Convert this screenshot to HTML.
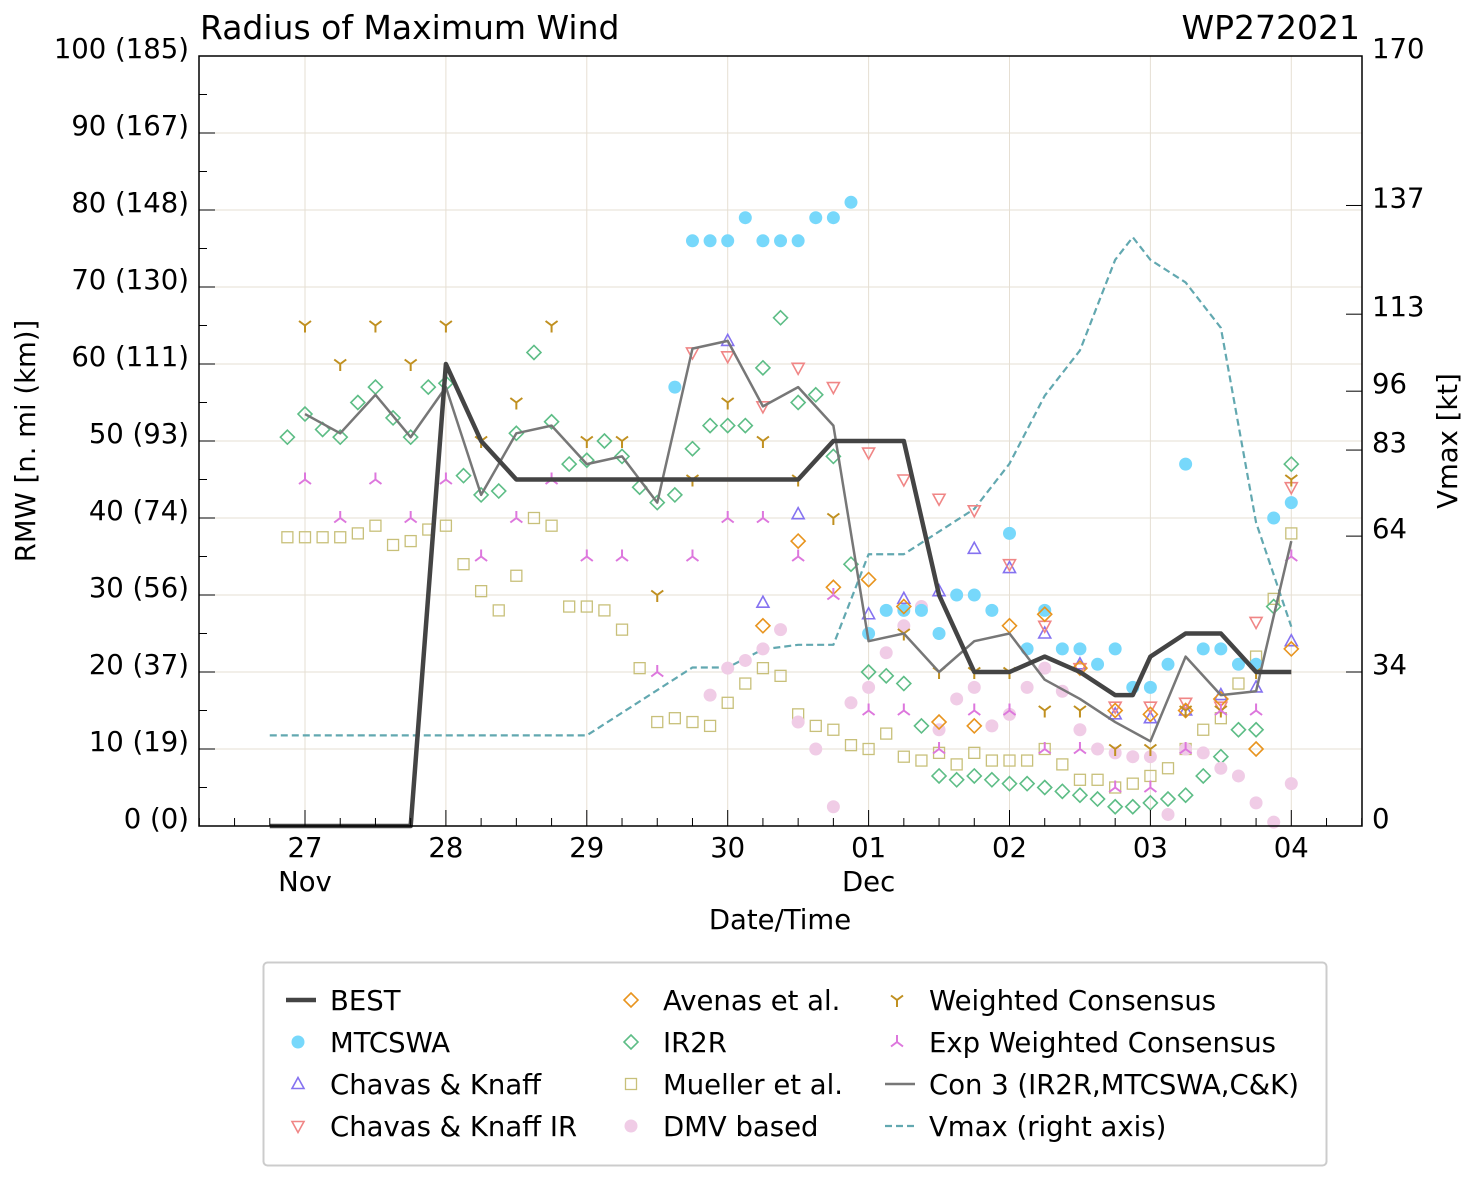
<!DOCTYPE html>
<html><head><meta charset="utf-8"><style>
body{margin:0;background:#fff;font-family:"DejaVu Sans","Liberation Sans",sans-serif;}
svg text{font-family:"DejaVu Sans","Liberation Sans",sans-serif;fill:#000;}
</style></head><body>
<svg id="chart" width="1477" height="1180" xmlns="http://www.w3.org/2000/svg">
<g id="grid"></g>
<g id="series"></g>
<g id="axes"></g>
<g id="legend"></g>
</svg>
<script>
const bestD=[-0.25,0.75,1,1.25,1.5,3.5,3.75,4.25,4.5,4.75,5,5.25,5.5,5.75,5.875,6,6.25,6.5,6.75,7];
const bestV=[0,0,60,50,45,45,50,50,30,20,20,22,20,17,17,22,25,25,20,20];
const vmaxD=[-0.25,2,2.75,3,3.25,3.5,3.75,4,4.25,4.5,4.75,5,5.25,5.5,5.75,5.875,6,6.25,6.5,6.75,7];
const vmaxV=[20,20,35,35,39,40,40,60,60,65,70,80,95,105,125,130,125,120,110,67,44];
const conD=[0,0.25,0.5,0.75,1,1.25,1.5,1.75,2,2.25,2.5,2.75,3,3.25,3.5,3.75,4,4.25,4.5,4.75,5,5.25,5.5,5.75,6,6.25,6.5,6.75,7];
const conV=[53.5,51,56,50.5,57,43,51,52,47,48,42,62,63,54.5,57,52,24,25,20,24,25,19,16.5,13.5,11,22,17,17.5,37];
const mtD=[2.625,2.75,2.875,3,3.125,3.25,3.375,3.5,3.625,3.75,3.875,4,4.125,4.25,4.375,4.5,4.625,4.75,4.875,5,5.125,5.25,5.375,5.5,5.625,5.75,5.875,6,6.125,6.25,6.375,6.5,6.625,6.75,6.875,7];
const mtV=[57,76,76,76,79,76,76,76,79,79,81,25,28,28,28,25,30,30,28,38,23,28,23,23,21,23,18,18,21,47,23,23,21,21,40,42];
const ckD=[3,3.25,3.5,4,4.25,4.5,4.75,5,5.25,5.5,5.75,6,6.25,6.5,6.75,7];
const ckV=[63,29,40.5,27.5,29.5,30.5,36,33.5,25,21,14.5,14,15,17,18,24];
const ckirD=[2.75,3,3.25,3.5,3.75,4,4.25,4.5,4.75,5,5.25,5.5,5.75,6,6.25,6.5,6.75,7];
const ckirV=[61.5,61,54.5,59.5,57,48.5,45,42.5,41,34,26,20.5,15.5,15.5,16,15.5,26.5,44];
const avD=[3.25,3.5,3.75,4,4.25,4.5,4.75,5,5.25,5.5,5.75,6,6.25,6.5,6.75,7];
const avV=[26,37,31,32,28.5,13.5,13,26,27.5,20.5,15,14.5,15,16.5,10,23];
const irD=[-0.125,0,0.125,0.25,0.375,0.5,0.625,0.75,0.875,1,1.125,1.25,1.375,1.5,1.625,1.75,1.875,2,2.125,2.25,2.375,2.5,2.625,2.75,2.875,3,3.125,3.25,3.375,3.5,3.625,3.75,3.875,4,4.125,4.25,4.375,4.5,4.625,4.75,4.875,5,5.125,5.25,5.375,5.5,5.625,5.75,5.875,6,6.125,6.25,6.375,6.5,6.625,6.75,6.875,7];
const irV=[50.5,53.5,51.5,50.5,55,57,53,50.5,57,57.5,45.5,43,43.5,51,61.5,52.5,47,47.5,50,48,44,42,43,49,52,52,52,59.5,66,55,56,48,34,20,19.5,18.5,13,6.5,6,6.5,6,5.5,5.5,5,4.5,4,3.5,2.5,2.5,3,3.5,4,6.5,9,12.5,12.5,28.5,47];
const muD=[-0.125,0,0.125,0.25,0.375,0.5,0.625,0.75,0.875,1,1.125,1.25,1.375,1.5,1.625,1.75,1.875,2,2.125,2.25,2.375,2.5,2.625,2.75,2.875,3,3.125,3.25,3.375,3.5,3.625,3.75,3.875,4,4.125,4.25,4.375,4.5,4.625,4.75,4.875,5,5.125,5.25,5.375,5.5,5.625,5.75,5.875,6,6.125,6.25,6.375,6.5,6.625,6.75,6.875,7];
const muV=[37.5,37.5,37.5,37.5,38,39,36.5,37,38.5,39,34,30.5,28,32.5,40,39,28.5,28.5,28,25.5,20.5,13.5,14,13.5,13,16,18.5,20.5,19.5,14.5,13,12.5,10.5,10,12,9,8.5,9.5,8,9.5,8.5,8.5,8.5,10,8,6,6,5,5.5,6.5,7.5,10,12.5,14,18.5,22,29.5,38];
const dmvD=[2.875,3,3.125,3.25,3.375,3.5,3.625,3.75,3.875,4,4.125,4.25,4.375,4.5,4.625,4.75,4.875,5,5.125,5.25,5.375,5.5,5.625,5.75,5.875,6,6.125,6.25,6.375,6.5,6.625,6.75,6.875,7];
const dmvV=[17,20.5,21.5,23,25.5,13.5,10,2.5,16,18,22.5,26,28.5,12.5,16.5,18,13,14.5,18,20.5,17.5,12.5,10,9.5,9,9,1.5,10,9.5,7.5,6.5,3,0.5,5.5];
const wcD=[0,0.25,0.5,0.75,1,1.25,1.5,1.75,2,2.25,2.5,2.75,3,3.25,3.5,3.75,4.25,4.5,4.75,5,5.25,5.5,5.75,6,6.25,6.5,6.75,7];
const wcV=[65,60,65,60,65,50,55,65,50,50,30,45,55,50,45,40,25,20,20,20,15,15,10,10,15,15,20,45];
const ewD=[0,0.25,0.5,0.75,1,1.25,1.5,1.75,2,2.25,2.5,2.75,3,3.25,3.5,3.75,4,4.25,4.5,4.75,5,5.25,5.5,5.75,6,6.25,6.5,6.75,7];
const ewV=[45,40,45,40,45,35,40,45,35,35,20,35,40,40,35,30,15,15,10,15,15,10,10,5,5,10,15,15,35];
const yTicks=["0 (0)","10 (19)","20 (37)","30 (56)","40 (74)","50 (93)","60 (111)","70 (130)","80 (148)","90 (167)","100 (185)"];
const rTicks=[0,34,64,83,96,113,137,170];
const xLabels=["27","28","29","30","01","02","03","04"];

const L=199,R=1362,T=56,B=826;
const FS=27.5;
const X=d=>305+d*140.9;
const Y=v=>B-v*(B-T)/100;
const YR=v=>B-v*(B-T)/170;
const NS="http://www.w3.org/2000/svg";
function mk(p,tag,at){const e=document.createElementNS(NS,tag);for(const k in at)e.setAttribute(k,at[k]);p.appendChild(e);return e;}
const grid=document.getElementById('grid'),ser=document.getElementById('series'),ax=document.getElementById('axes'),lg=document.getElementById('legend');

for(let i=0;i<=10;i++){const g=mk(grid,'line',{x1:L,x2:R,y1:Y(i*10),y2:Y(i*10),stroke:'#e6dfd3','stroke-width':1});
}
for(let i=0;i<8;i++){const g=mk(grid,'line',{x1:X(i),x2:X(i),y1:T,y2:B,stroke:'#e6dfd3','stroke-width':1});
}

function line(D,V,yf,st,w,dash,name){const pts=D.map((d,i)=>X(d)+','+yf(V[i])).join(' ');
const e=mk(ser,'polyline',{points:pts,fill:'none',stroke:st,'stroke-width':w,'stroke-dasharray':dash||'none','stroke-linejoin':'round'});
}
function marker(p,type,x,y,c){
 if(type=='circle')return mk(p,'circle',{cx:x,cy:y,r:6.5,fill:c});
 if(type=='up')return mk(p,'polygon',{points:`${x},${y-6.5} ${x-6},${y+4.5} ${x+6},${y+4.5}`,fill:'none',stroke:c,'stroke-width':1.6});
 if(type=='down')return mk(p,'polygon',{points:`${x},${y+6.5} ${x-6},${y-4.5} ${x+6},${y-4.5}`,fill:'none',stroke:c,'stroke-width':1.6});
 if(type=='diamond')return mk(p,'polygon',{points:`${x},${y-7} ${x+7},${y} ${x},${y+7} ${x-7},${y}`,fill:'none',stroke:c,'stroke-width':1.6});
 if(type=='square')return mk(p,'rect',{x:x-5.5,y:y-5.5,width:11,height:11,fill:'none',stroke:c,'stroke-width':1.3});
 if(type=='tridown')return mk(p,'path',{d:`M${x},${y} L${x},${y+7} M${x},${y} L${x-6},${y-4.5} M${x},${y} L${x+6},${y-4.5}`,fill:'none',stroke:c,'stroke-width':2});
 if(type=='triup')return mk(p,'path',{d:`M${x},${y} L${x},${y-7} M${x},${y} L${x-6},${y+4.5} M${x},${y} L${x+6},${y+4.5}`,fill:'none',stroke:c,'stroke-width':2});
}
function scat(D,V,type,c,name){D.forEach((d,i)=>{const e=marker(ser,type,X(d),Y(V[i]),c);
});}

line(vmaxD,vmaxV,YR,'#62a8b0',2.2,'7,4','vmax-line');
scat(muD,muV,'square','#c8c07a','mueller-point');
scat(irD,irV,'diamond','#5dbd86','ir2r-point');
scat(dmvD,dmvV,'circle','#f0cce6','dmv-point');
scat(mtD,mtV,'circle','#77d8fb','mtcswa-point');
scat(ckD,ckV,'up','#8572f0','ck-point');
scat(ckirD,ckirV,'down','#f08686','ckir-point');
scat(avD,avV,'diamond','#e8941e','avenas-point');
scat(wcD,wcV,'tridown','#c09020','wc-point');
scat(ewD,ewV,'triup','#dd77dd','ewc-point');
line(conD,conV,Y,'#777',2.5,null,'con3-line');
line(bestD,bestV,Y,'#444',4.5,null,'best-line');

const fr=mk(ax,'rect',{x:L,y:T,width:R-L,height:B-T,fill:'none',stroke:'#000','stroke-width':1.5});

yTicks.forEach((t,i)=>{const y=Y(i*10);
 const tk=mk(ax,'line',{x1:L,x2:L+16,y1:y,y2:y,stroke:'#000','stroke-width':1});
 if(i<10){const m=mk(ax,'line',{x1:L,x2:L+8,y1:Y(i*10+5),y2:Y(i*10+5),stroke:'#000','stroke-width':1});}
 const tx=mk(ax,'text',{x:189,y:y+2,'text-anchor':'end','font-size':FS});tx.textContent=t;});
rTicks.forEach(v=>{const y=YR(v);
 const tk=mk(ax,'line',{x1:R-16,x2:R,y1:y,y2:y,stroke:'#000','stroke-width':1});
 const tx=mk(ax,'text',{x:1372,y:y+2,'font-size':FS});tx.textContent=v;});
for(let q=-3;q<=32;q++){const x=X(q/4);if(x<L||x>R)continue;
 const big=q%4==0;const tk=mk(ax,'line',{x1:x,x2:x,y1:B,y2:B-(big?16:8),stroke:'#000','stroke-width':1});
 }
xLabels.forEach((t,i)=>{const tx=mk(ax,'text',{x:X(i),y:857,'text-anchor':'middle','font-size':FS});tx.textContent=t;
 });
[["Nov",0],["Dec",4]].forEach(a=>{const tx=mk(ax,'text',{x:X(a[1]),y:891,'text-anchor':'middle','font-size':FS});tx.textContent=a[0];
 });
let t=mk(ax,'text',{x:780,y:929,'text-anchor':'middle','font-size':FS});t.textContent='Date/Time';
t=mk(ax,'text',{x:0,y:0,'text-anchor':'middle','font-size':FS,transform:'translate(35,441) rotate(-90)'});t.textContent='RMW [n. mi (km)]';
t=mk(ax,'text',{x:0,y:0,'text-anchor':'middle','font-size':FS,transform:'translate(1457,441) rotate(-90)'});t.textContent='Vmax [kt]';
t=mk(ax,'text',{x:200,y:39,'font-size':33});t.textContent='Radius of Maximum Wind';
t=mk(ax,'text',{x:1360,y:39,'text-anchor':'end','font-size':33});t.textContent='WP272021';

const lb=mk(lg,'rect',{x:263.5,y:962.5,width:1063,height:203,rx:4,fill:'#fff',stroke:'#ccc','stroke-width':2});

const items=[["BEST","best",298],["MTCSWA","circle:#77d8fb",298],["Chavas & Knaff","up:#8572f0",298],["Chavas & Knaff IR","down:#f08686",298],
["Avenas et al.","diamond:#e8941e",631],["IR2R","diamond:#5dbd86",631],["Mueller et al.","square:#c8c07a",631],["DMV based","circle:#f0cce6",631],
["Weighted Consensus","tridown:#c09020",897],["Exp Weighted Consensus","triup:#dd77dd",897],["Con 3 (IR2R,MTCSWA,C&K)","con",897],["Vmax (right axis)","vmax",897]];
items.forEach((it,i)=>{const y=1000+(i%4)*42;const x=it[2];
 const g=mk(lg,'g',{});
 if(it[1]=='best')mk(g,'line',{x1:x-12,x2:x+18,y1:y,y2:y,stroke:'#444','stroke-width':4.5});
 else if(it[1]=='con')mk(g,'line',{x1:x-12,x2:x+18,y1:y,y2:y,stroke:'#777','stroke-width':2.5});
 else if(it[1]=='vmax')mk(g,'line',{x1:x-12,x2:x+18,y1:y,y2:y,stroke:'#62a8b0','stroke-width':2.2,'stroke-dasharray':'7,4'});
 else{const [ty,c]=it[1].split(':');marker(g,ty,x,y,c);}
 const tx=mk(g,'text',{x:x+32,y:y+10,'font-size':FS});tx.textContent=it[0];});
</script>
</body></html>
